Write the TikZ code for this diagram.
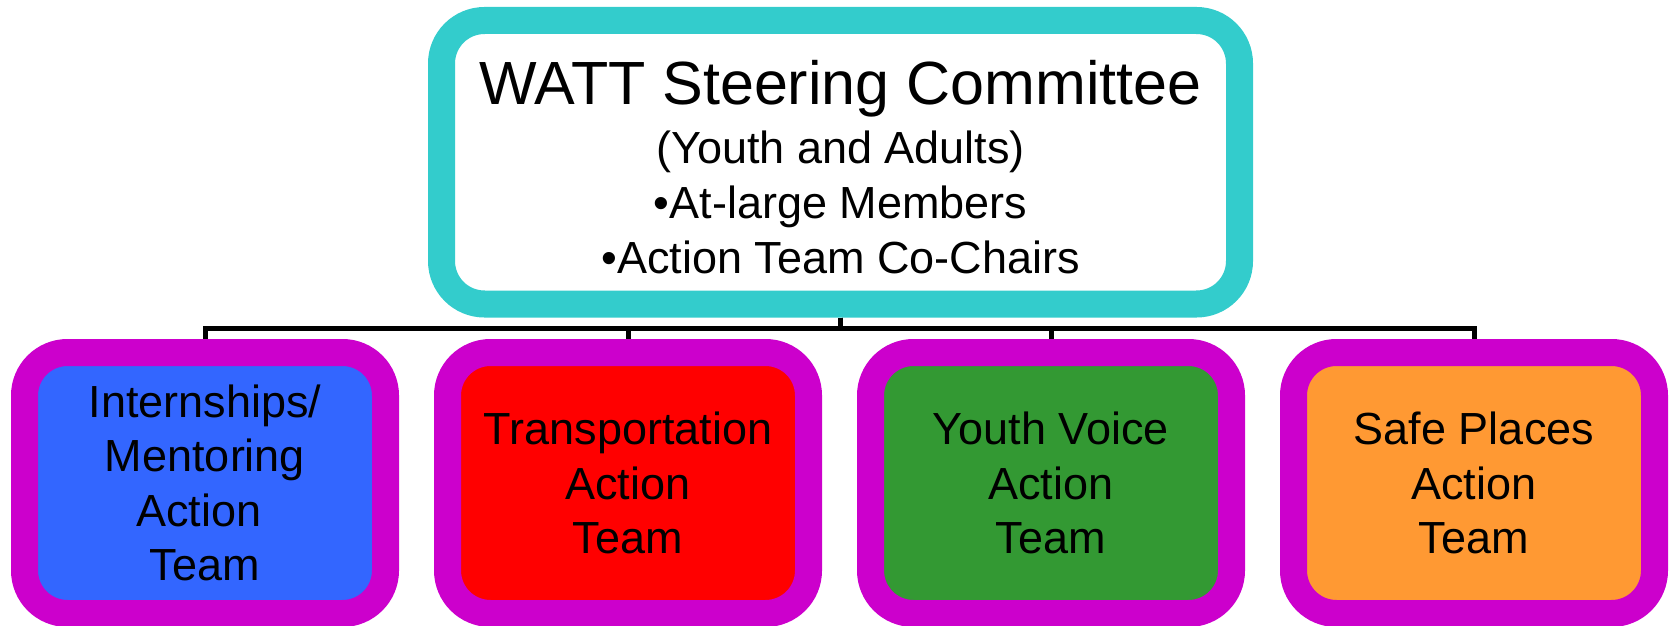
\documentclass[tikz,border=0pt]{standalone}
\usepackage{fontspec}
\setmainfont{Liberation Sans}

\definecolor{steeredge}{HTML}{33CCCC}
\definecolor{teamedge}{HTML}{CC00CC}
\definecolor{teamblue}{HTML}{3366FF}
\definecolor{teamred}{HTML}{FF0000}
\definecolor{teamgreen}{HTML}{339933}
\definecolor{teamorange}{HTML}{FF9933}

\begin{document}
\begin{tikzpicture}[x=1pt, y=-1pt,
    steerbox/.style={draw=steeredge, fill=white, line width=27pt, rounded corners=43pt,
        minimum width=798pt, minimum height=283.5pt, inner sep=0pt, align=center,
        font=\fontsize{45}{55}\selectfont},
    teambox/.style={draw=teamedge, line width=27pt, rounded corners=43pt,
        minimum width=361pt, minimum height=261pt, inner sep=0pt, align=center,
        font=\fontsize{45}{54.5}\selectfont},
    link/.style={line width=5pt}]
    % Page size as the reference
    \useasboundingbox (0,0) rectangle (1671,626);

    % Steering committee
    \node[steerbox] (steer) at (840.5,162.25)
        {\rule{0pt}{53pt}{\fontsize{61}{55}\selectfont WATT Steering Committee}\\[4pt]
         (Youth and Adults)\\
         •At-large Members\\
         •Action Team Co-Chairs};

    % Action teams
    \node[teambox, fill=teamblue] (intern) at (205,483) {Internships/\\Mentoring\\Action\rule{12.5pt}{0pt}\\Team};
    \node[teambox, fill=teamred] (transport) at (628,483) {Transportation\\Action\\Team};
    \node[teambox, fill=teamgreen] (voice) at (1051,483) {Youth Voice\\Action\\Team};
    \node[teambox, fill=teamorange] (safe) at (1474,483) {Safe Places\\Action\\Team};

    % Connectors
    \draw[link] (steer.south) -- ++(0,11) -| (intern.north);
    \draw[link] (steer.south) -- ++(0,11) -| (transport.north);
    \draw[link] (steer.south) -- ++(0,11) -| (voice.north);
    \draw[link] (steer.south) -- ++(0,11) -| (safe.north);
\end{tikzpicture}
\end{document}
